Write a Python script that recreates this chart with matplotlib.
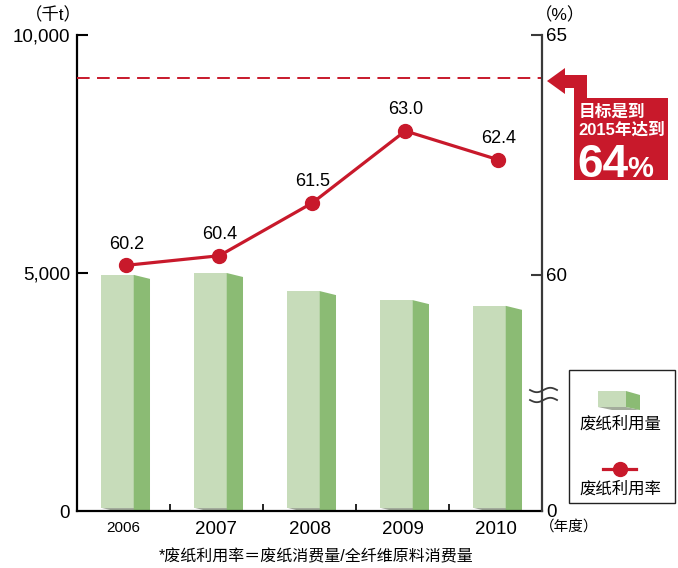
import numpy as np
import matplotlib
matplotlib.use('Agg')
import matplotlib.pyplot as plt
from matplotlib.patches import Polygon, Rectangle

plt.rcParams['font.family'] = ['Liberation Sans', 'Noto Sans CJK SC', 'DejaVu Sans']

years = ['2006', '2007', '2008', '2009', '2010']
usage = [4960, 5000, 4620, 4430, 4310]      # 废纸利用量 (千t)
rate = [60.2, 60.4, 61.5, 63.0, 62.4]        # 废纸利用率 (%)
target = 64

RED = '#c8192b'
FRONT = '#c7dcba'
SIDE = '#8bbb74'
SHADOW = '#a3ac9c'
W, H = 678, 568


def px(x, y):
    return x / W, 1 - y / H


fig = plt.figure(figsize=(W / 100, H / 100), dpi=100)
l, b = px(77, 511)
r, t = px(542, 35)
ax = fig.add_axes([l, b, r - l, t - b])
ax2 = ax.twinx()

ax.set_xlim(-0.5, 4.5)
ax.set_ylim(0, 10000)
ax2.set_ylim(55.08, 65)

# 3D-ish bars
d = 84
for i, v in enumerate(usage):
    x0, x1, x2 = i - 0.245, i + 0.11, i + 0.285
    ax.add_patch(Polygon([(x0, 70), (x1, 70), (x2, 70 - d), (x0 + x2 - x1, 70 - d)],
                         closed=True, fc=SHADOW, ec='none', clip_on=False))
    ax.add_patch(Polygon([(x0, 70), (x1, 70), (x1, v), (x0, v)], closed=True, fc=FRONT, ec='none'))
    ax.add_patch(Polygon([(x1, 0), (x1, v), (x2, v - d), (x2, 0)], closed=True, fc=SIDE, ec='none'))

# rate line
xs = np.arange(len(rate)) + 0.03
ax2.plot(xs, rate, color=RED, lw=2.3, marker='o', ms=10, zorder=5)
for x, v in zip(xs, rate):
    ax2.annotate(f'{v:.1f}', (x, v), xytext=(0, 9), textcoords='offset points',
                 ha='center', va='bottom', fontsize=13)
ax2.axhline(target + 0.1, color=RED, lw=1.4, ls=(0, (6.5, 3.8)))

# spines and ticks
for s in ['top', 'right']:
    ax.spines[s].set_visible(False)
for s in ['top', 'left', 'bottom']:
    ax2.spines[s].set_visible(False)
ax.spines['left'].set_linewidth(1.6)
ax.spines['bottom'].set_linewidth(1.6)
ax2.spines['right'].set_linewidth(1.6)
ax2.spines['right'].set_color('#3a3a3a')

ax.set_yticks([0, 5000, 10000])
ax.set_yticklabels(['0', '5,000', '10,000'], fontsize=13.5)
ax.tick_params(axis='y', direction='in', length=8, width=1.5, pad=5)
ax2.set_yticks([55.08, 60, 65])
ax2.set_yticklabels(['0', '60', '65'], fontsize=13.5)
ax2.tick_params(axis='y', direction='in', length=8, width=1.5, pad=3, color='#3a3a3a')
ax2.yaxis.get_major_ticks()[0].tick2line.set_visible(False)
ax.yaxis.get_major_ticks()[0].tick1line.set_visible(False)

ax.set_xticks(range(len(years)))
ax.set_xticklabels(years, fontsize=13.5)
ax.get_xticklabels()[0].set_fontsize(11)
ax.tick_params(axis='x', length=0, pad=7)
ax.set_xticks(np.arange(0.5, 4, 1), minor=True)
ax.tick_params(axis='x', which='minor', direction='in', length=5, width=1.2)

fig.text(*px(53, 15), '（千t）', ha='center', va='center', fontsize=12.5)
fig.text(*px(560, 15), '（%）', ha='center', va='center', fontsize=12.5)
fig.text(*px(569, 527), '（年度）', ha='center', va='center', fontsize=10.5)
fig.text(*px(316, 557), '*废纸利用率＝废纸消费量/全纤维原料消费量', ha='center', va='center', fontsize=11.5)

# axis break mark
wx = np.linspace(530, 557, 40)
for yy in (390, 400):
    wy = yy + 2.2 * np.sin((wx - 530) / 27 * 2 * np.pi)
    fig.add_artist(plt.Line2D(wx / W, 1 - wy / H, color='#3a3a3a', lw=1.3))

# target callout
callout = [(547, 81), (565, 68), (565, 75), (587, 75), (587, 98), (668, 98),
           (668, 180), (574, 180), (574, 88), (565, 88), (565, 94)]
fig.add_artist(Polygon([px(*p) for p in callout], closed=True, fc=RED, ec='none',
                       transform=fig.transFigure))
fig.text(*px(579, 112), '目标是到', color='white', fontsize=12, fontweight='bold', va='center')
fig.text(*px(578, 130), '2015年达到', color='white', fontsize=12, fontweight='bold', va='center')
fig.text(*px(577, 177), '64', color='white', fontsize=33, fontweight='bold', va='baseline')
fig.text(*px(627, 177), '%', color='white', fontsize=21, fontweight='bold', va='baseline')

# legend
fig.add_artist(Rectangle(px(569, 503), 106 / W, 133 / H, fc='white', ec='#222222', lw=1.0,
                         transform=fig.transFigure))
fig.add_artist(Polygon([px(598, 407), px(626, 407), px(640, 410), px(612, 410)], closed=True,
                       fc=SHADOW, ec='none', transform=fig.transFigure))
fig.add_artist(Polygon([px(598, 391), px(626, 391), px(626, 407), px(598, 407)], closed=True,
                       fc=FRONT, ec='none', transform=fig.transFigure))
fig.add_artist(Polygon([px(626, 391), px(640, 395), px(640, 410), px(626, 407)], closed=True,
                       fc=SIDE, ec='none', transform=fig.transFigure))
fig.text(*px(620, 424), '废纸利用量', ha='center', va='center', fontsize=11.8)
fig.add_artist(plt.Line2D([603 / W, 636 / W], [1 - 469 / H] * 2, color=RED, lw=2.3,
                          transform=fig.transFigure))
fig.add_artist(plt.Line2D([619.5 / W], [1 - 469 / H], color=RED, marker='o', ms=10,
                          transform=fig.transFigure))
fig.text(*px(620, 489), '废纸利用率', ha='center', va='center', fontsize=11.8)

fig.savefig('out.png', dpi=100)
